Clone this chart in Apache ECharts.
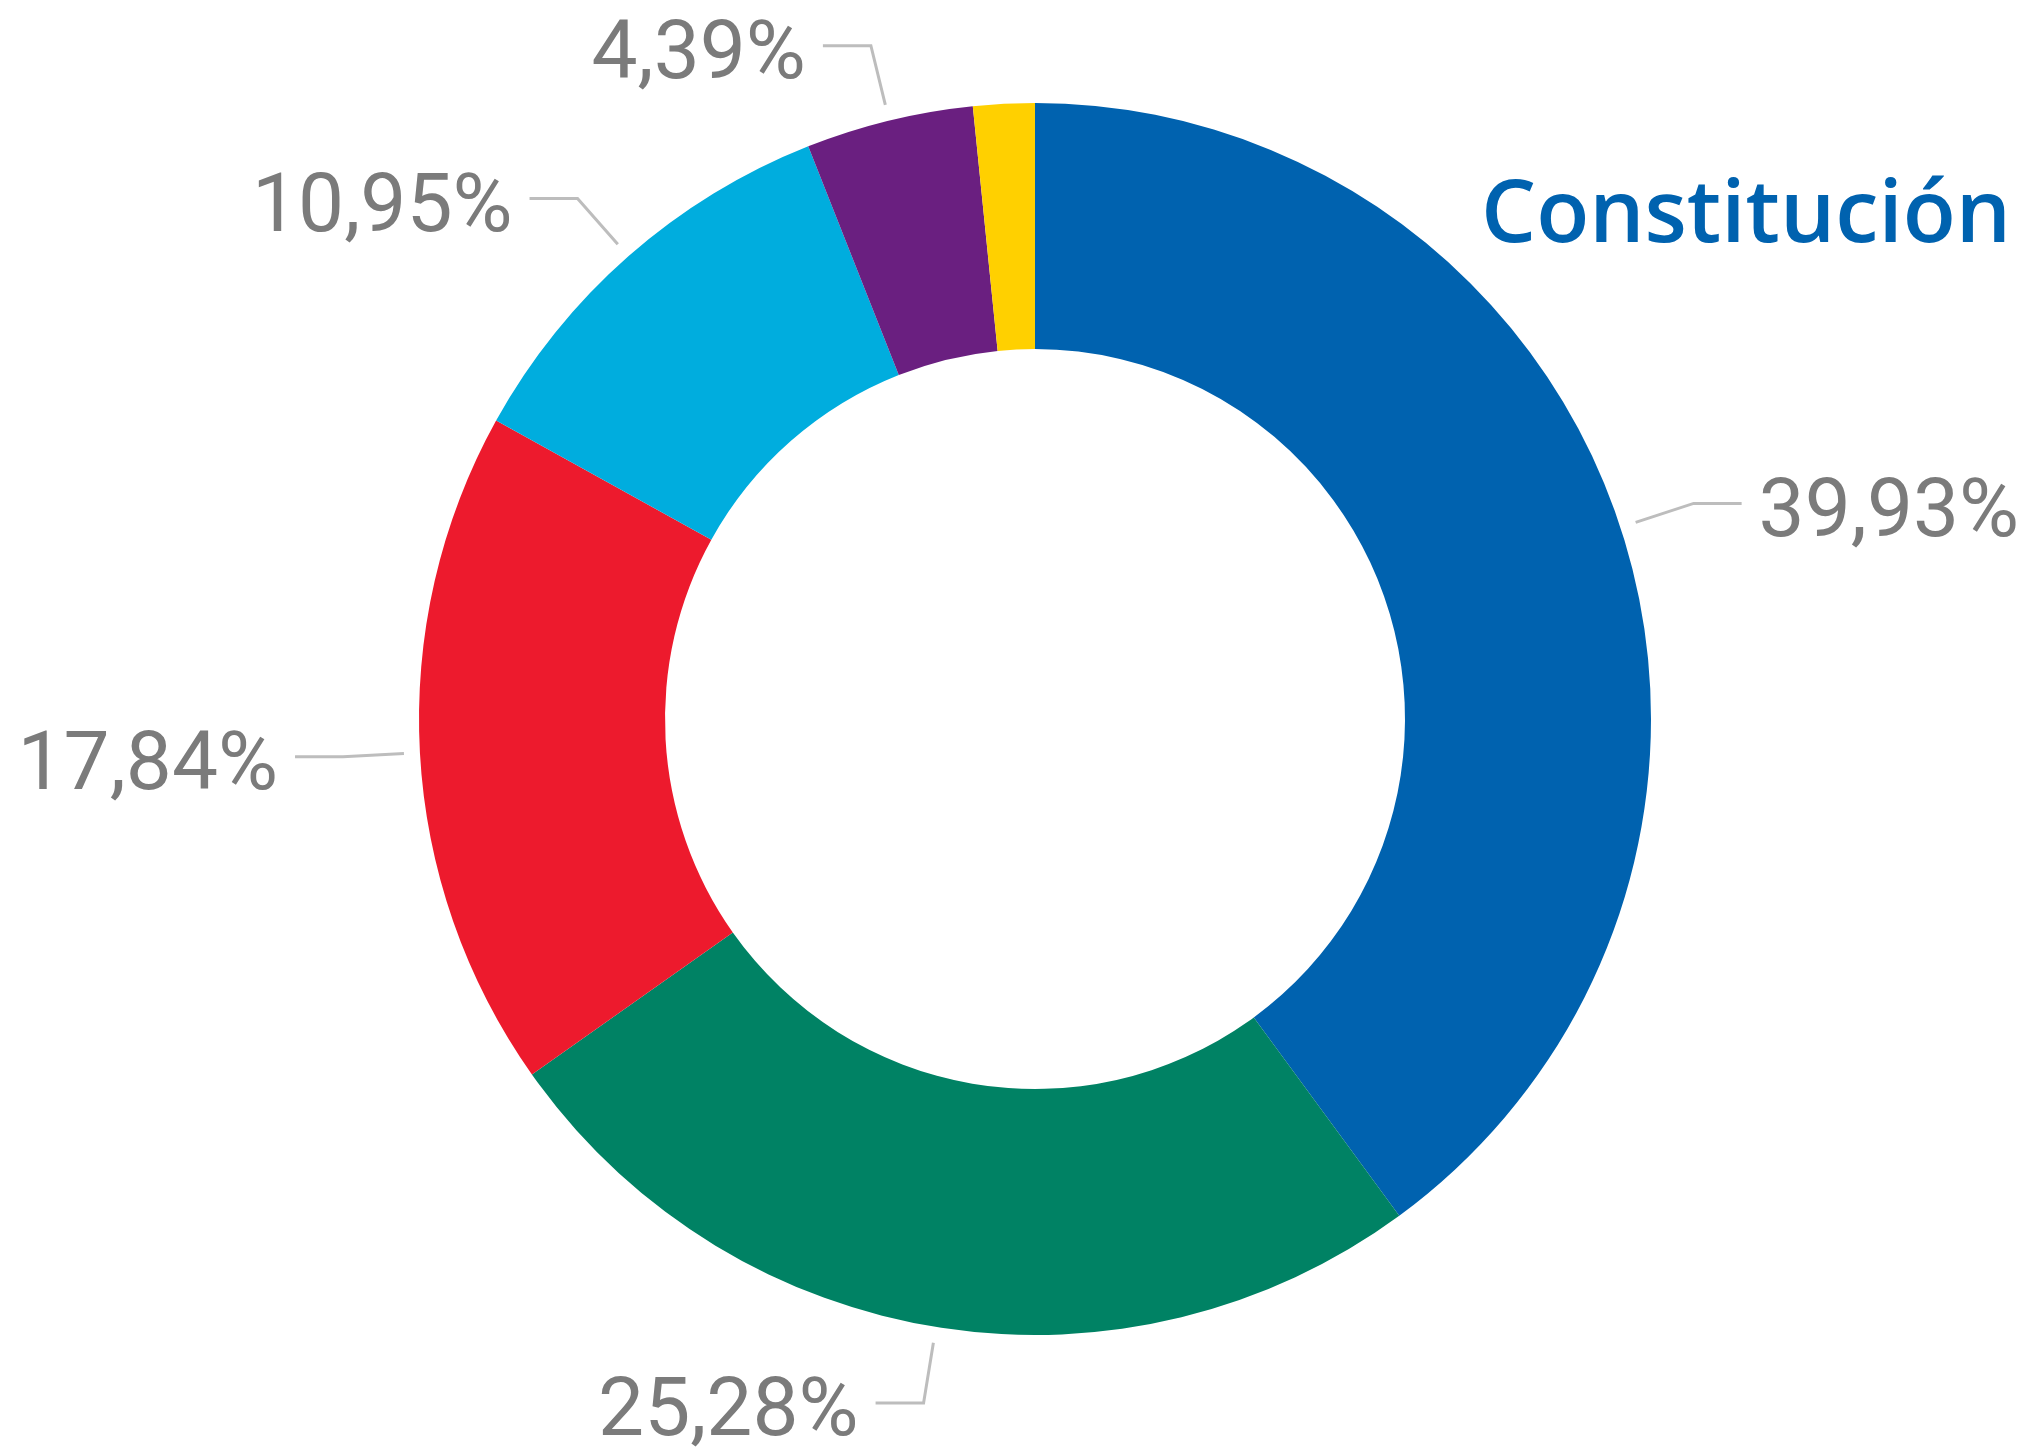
<!DOCTYPE html>
<html>
<head>
<meta charset="utf-8">
<script src="https://cdn.jsdelivr.net/npm/echarts@6/dist/echarts.min.js"></script>
<style>
  html, body { margin: 0; padding: 0; background: #fff; }
  #chart { width: 2023px; height: 1452px; }
</style>
</head>
<body>
<div id="chart"></div>
<script>
// slices, clockwise from 12 o'clock
const segments = ['Segmento 1', 'Segmento 2', 'Segmento 3', 'Segmento 4', 'Segmento 5', 'Segmento 6'];
const shares = [39.93, 25.28, 17.84, 10.95, 4.39, 1.61];
const sliceColors = ['#0062AF', '#008264', '#ED1A2D', '#00ADDE', '#6A1F80', '#FFD000'];
const showLabel = [true, true, true, true, true, false];
const titleText = 'Constitución';

const chart = echarts.init(document.getElementById('chart'), null, { renderer: 'canvas' });

const fmt = (v) => v.toFixed(2).replace('.', ',') + '%';

const ringData = segments.map((name, i) => ({
  name,
  value: shares[i],
  itemStyle: { color: sliceColors[i] }
}));

// invisible thin ring a bit outside the donut, only used to carry the labels
// so that the guide lines start with a small gap from the slices
const labelData = segments.map((name, i) => ({
  name,
  value: shares[i],
  label: { show: showLabel[i] },
  labelLine: { show: showLabel[i] }
}));

const option = {
  animation: false,
  backgroundColor: '#fff',
  title: {
    text: titleText,
    left: 1481,
    top: 174,
    padding: 0,
    textStyle: {
      fontFamily: 'Open Sans',
      fontWeight: 600,
      fontSize: 87,
      lineHeight: 86,
      color: '#0062AF'
    }
  },
  series: [
    {
      type: 'pie',
      silent: true,
      center: [1035, 719],
      radius: [370, 616],
      startAngle: 90,
      clockwise: true,
      label: { show: false },
      labelLine: { show: false },
      data: ringData
    },
    {
      type: 'pie',
      silent: true,
      avoidLabelOverlap: false,
      center: [1035, 719],
      radius: [631, 632],
      startAngle: 90,
      clockwise: true,
      itemStyle: { color: 'rgba(0,0,0,0)' },
      label: {
        show: true,
        formatter: (p) => '{v|' + fmt(p.value) + '}',
        width: 320,
        distanceToLabelLine: 17,
        rich: {
          v: {
            fontFamily: 'Roboto',
            fontSize: 82,
            lineHeight: 36,
            padding: [24, 0, 0, 0],
            color: '#7B7B7B'
          }
        }
      },
      labelLine: {
        show: true,
        length: 61,
        length2: 48,
        smooth: false,
        lineStyle: { color: '#BDBDBD', width: 3 }
      },
      data: labelData
    }
  ]
};

chart.setOption(option);
</script>
</body>
</html>
